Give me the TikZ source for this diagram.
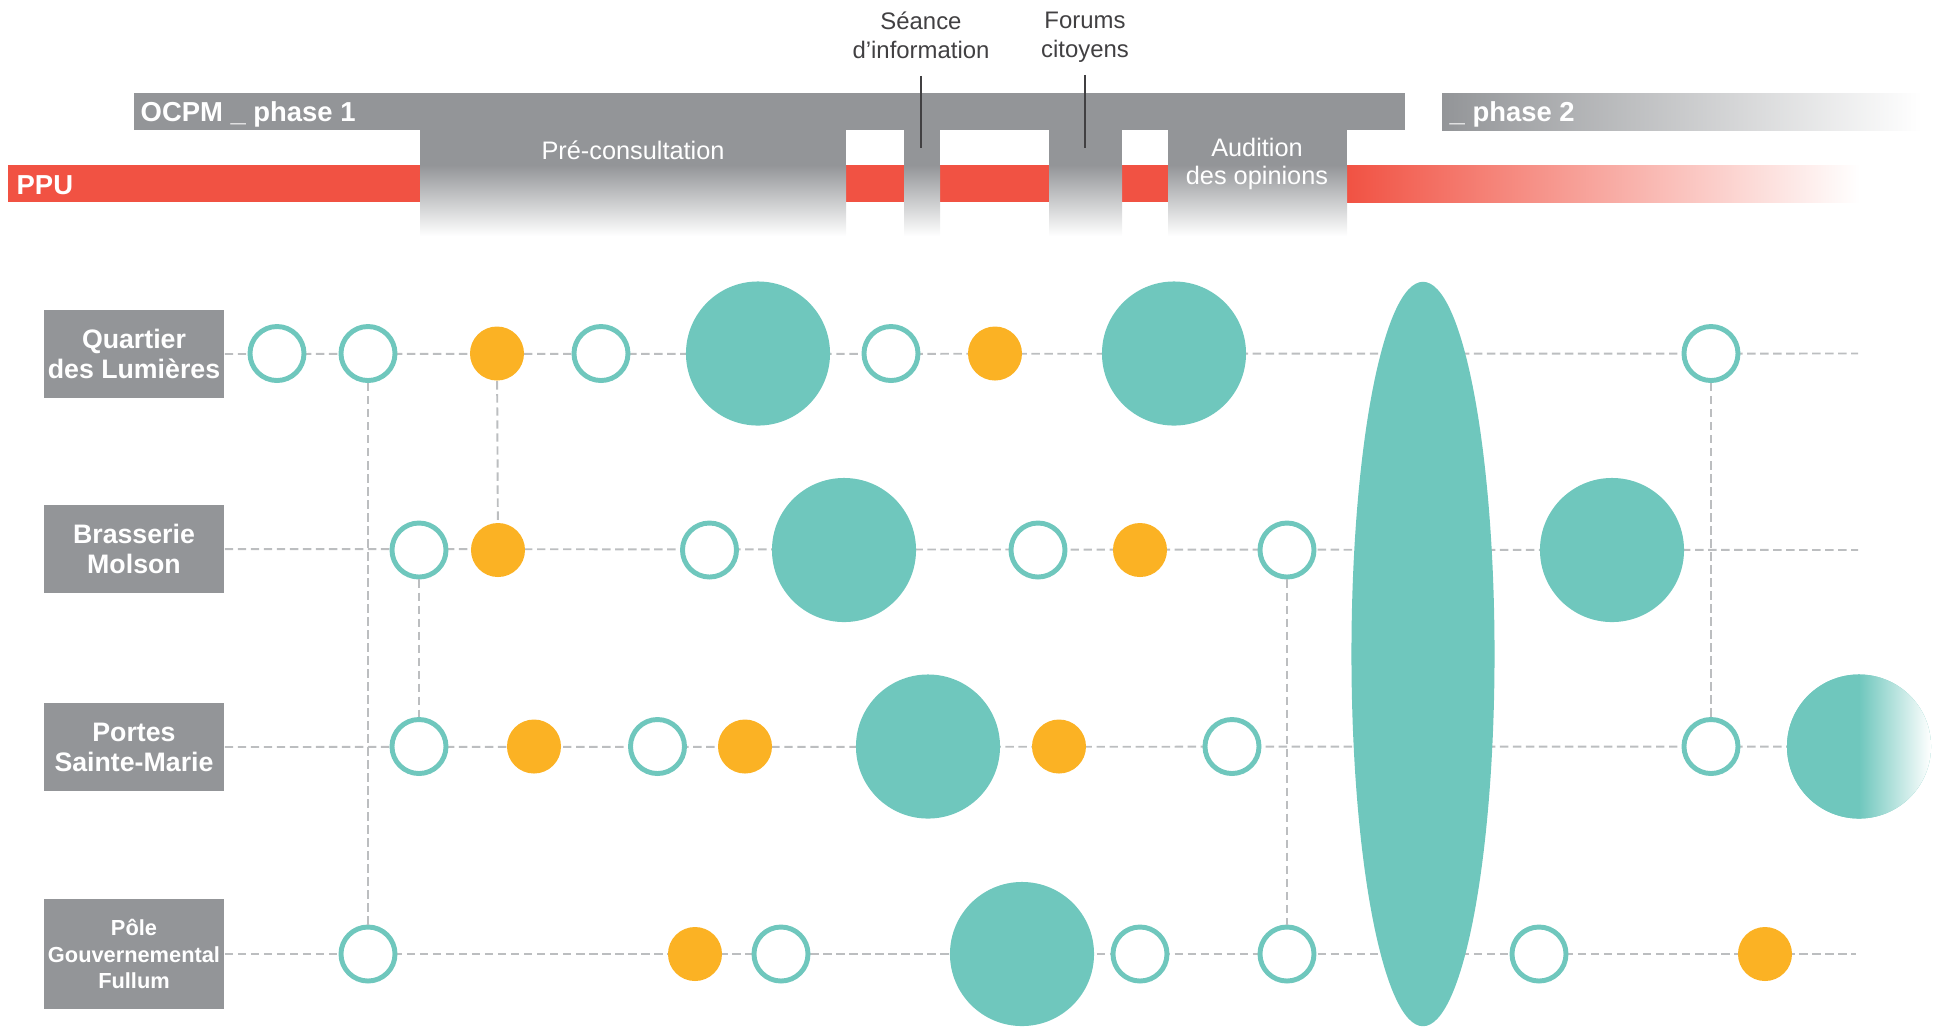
\documentclass[tikz,border=0pt]{standalone}
\usepackage{fontspec}
\setmainfont{Liberation Sans}
\usepackage{xcolor}
\usetikzlibrary{shapes.geometric}

\definecolor{ocpmgray}{HTML}{939598}
\definecolor{ppured}{HTML}{F15243}
\definecolor{siteteal}{HTML}{6FC7BD}
\definecolor{siteorange}{HTML}{FBB224}
\definecolor{trackgray}{HTML}{BCBEC0}
\definecolor{textgray}{HTML}{414042}

\pgfdeclarehorizontalshading{tealfade}{100bp}{color(0bp)=(siteteal); color(50bp)=(siteteal); color(75bp)=(white); color(100bp)=(white)}

\begin{document}
\begin{tikzpicture}[
    x=0.01cm, y=-0.01cm,
    barlabel/.style={text=white, font=\bfseries\fontsize{7.8}{9}\selectfont, inner sep=0pt},
    steplabel/.style={text=white, font=\fontsize{7.2}{7.9}\selectfont, align=center, inner sep=0pt},
    eventlabel/.style={text=textgray, font=\fontsize{6.8}{8.2}\selectfont, align=center, inner sep=0pt},
    leader/.style={draw=textgray, line width=0.45pt},
    site/.style={rectangle, fill=ocpmgray, text=white, font=\bfseries\fontsize{7.6}{8.5}\selectfont, minimum width=1.8cm, minimum height=0.88cm, align=center, inner sep=0pt},
    ring/.style={circle, draw=siteteal, line width=1.4pt, fill=white, minimum size=0.54cm, inner sep=0pt},
    dot/.style={circle, fill=siteorange, minimum size=0.54cm, inner sep=0pt},
    big/.style={circle, fill=siteteal, minimum size=1.44cm, inner sep=0pt},
    track/.style={draw=trackgray, line width=0.55pt, dash pattern=on 2.4pt off 1.3pt}
]
\useasboundingbox (0,0) rectangle (1938,1026);

% timeline bars
\fill[ppured] (8,165) rectangle (1348,202);
\shade[left color=ppured, right color=white] (1347,165) rectangle (1860,202);
\fill[ocpmgray] (134,93) rectangle (1405,130);
\shade[left color=ocpmgray, right color=white] (1442,93) rectangle (1922,130);
\foreach \a/\b in {420/846, 904/940, 1049/1122, 1168/1347} {
  \fill[ocpmgray] (\a,129) rectangle (\b,166);
  \shade[top color=ocpmgray, bottom color=white] (\a,165) rectangle (\b,236);
}

\node[barlabel, anchor=base west] (ocpm) at (140,121) {OCPM \_ phase 1};
\node[barlabel, anchor=base west] (phase2) at (1449,121) {\_ phase 2};
\node[barlabel, anchor=base west] (ppu) at (16,194) {PPU};
\node[steplabel] (precons) at (633,150) {Pré-consultation};
\node[steplabel] (audition) at (1257,164) {Audition\\des opinions};

% events
\node[eventlabel] (seance) at (921,35) {Séance\\d’information};
\node[eventlabel] (forums) at (1085,37) {Forums\\citoyens};
\coordinate (seancefoot) at (921,148);
\coordinate (forumsfoot) at (1085,148);
\draw[leader, shorten <=4.8pt] (seance) -- (seancefoot);
\draw[leader, shorten <=3.4pt] (forums) -- (forumsfoot);

% sites
\node[site] (quartier) at (134,354) {Quartier\\des Lumières};
\node[site] (brasserie) at (134,549) {Brasserie\\Molson};
\node[site] (portes) at (134,747) {Portes\\Sainte-Marie};
\node[site, minimum height=1.09cm, font=\bfseries\fontsize{6.2}{7.6}\selectfont] (pole) at (134,954) {Pôle\\Gouvernemental\\Fullum};

\coordinate (qend) at (1858,353.5);
\coordinate (bend) at (1858,550);
\coordinate (pend) at (1858,746.5);
\coordinate (gend) at (1856,954);
\draw[track] (quartier) -- (qend);
\draw[track] (brasserie) -- (bend);
\draw[track] (portes) -- (pend);
\draw[track] (pole) -- (gend);

% Quartier des Lumieres
\foreach \x/\n in {277/1, 368/2, 601/4, 891/6, 1711/9} \node[ring] (q\n) at (\x,353.5) {};
\foreach \x/\n in {497/3, 995/7} \node[dot] (q\n) at (\x,353.5) {};
\foreach \x/\n in {758/5, 1174/8} \node[big] (q\n) at (\x,353.5) {};

% Brasserie Molson
\foreach \x/\n in {419/1, 709.5/3, 1038/5, 1287/7} \node[ring] (b\n) at (\x,550) {};
\foreach \x/\n in {498/2, 1140/6} \node[dot] (b\n) at (\x,550) {};
\foreach \x/\n in {844/4, 1612/8} \node[big] (b\n) at (\x,550) {};

% Portes Sainte-Marie
\foreach \x/\n in {419/1, 657.5/3, 1232/7, 1711/8} \node[ring] (p\n) at (\x,746.5) {};
\foreach \x/\n in {534/2, 745/4, 1059/6} \node[dot] (p\n) at (\x,746.5) {};
\node[big] (p5) at (928,746.5) {};
\node[big, shading=tealfade] (p9) at (1859,746.5) {};

% Pole Gouvernemental Fullum
\foreach \x/\n in {368/1, 781/3, 1140/5, 1287/6, 1539/7} \node[ring] (g\n) at (\x,954) {};
\foreach \x/\n in {695/2, 1765/8} \node[dot] (g\n) at (\x,954) {};
\node[big] (g4) at (1022,954) {};

% joint session
\node[ellipse, fill=siteteal, minimum width=1.43cm, minimum height=7.44cm, inner sep=0pt] (plenary) at (1423,654) {};

% links between sites
\draw[track] (q2) -- (g1);
\draw[track] (q3) -- (b2);
\draw[track] (b1) -- (p1);
\draw[track] (b7) -- (g6);
\draw[track] (q9) -- (p8);
\end{tikzpicture}
\end{document}
